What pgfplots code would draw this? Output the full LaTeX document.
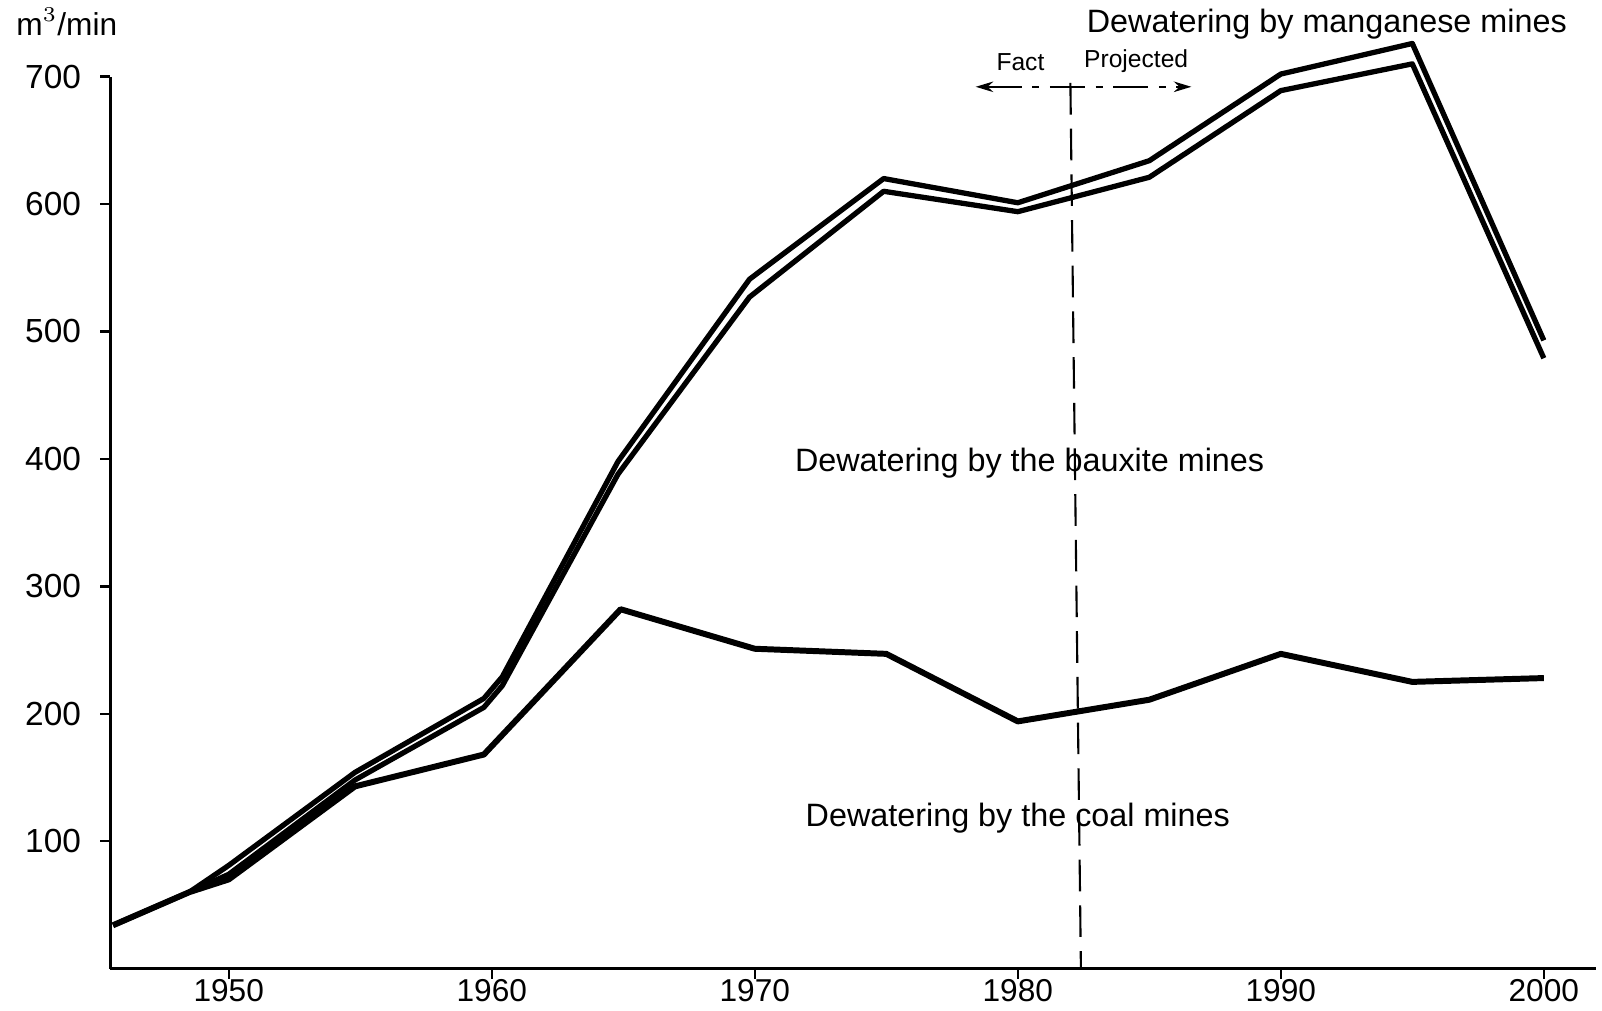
\documentclass[border=0pt]{standalone}
\usepackage{pgfplots}
\pgfplotsset{compat=1.18}
\usepackage{fontspec}
\setmainfont{Liberation Sans}
\usetikzlibrary{arrows.meta}
\begin{document}
\begin{tikzpicture}
\useasboundingbox (-1.104cm,-0.414cm) rectangle (14.916cm,9.686cm);
\begin{axis}[
  at={(0,0)}, anchor=south west,
  scale only axis,
  width=14.86cm, height=8.92cm,
  xmin=1945.5, xmax=2002,
  ymin=0, ymax=700,
  axis lines=left,
  axis line style={-, line width=0.8pt},
  xtick={1950,1960,1970,1980,1990,2000},
  ytick={100,200,300,400,500,600,700},
  tick align=outside,
  major tick length=0.1cm,
  tick style={line width=0.7pt, black},
  x tick label style={font=\fontsize{9}{10}\selectfont, inner sep=1pt, yshift=1pt},
  y tick label style={font=\fontsize{9.5}{11}\selectfont, xshift=-2pt},
  /pgf/number format/assume math mode=true,
  xticklabel style={/pgf/number format/1000 sep=},
  clip=false,
]
% coal mines
\addplot[black, line width=1.7pt, line join=round] coordinates {
 (1945.6,34) (1948.5,60) (1950,70) (1954.8,143) (1959.7,168) (1964.9,282)
 (1970,251) (1975,247) (1980,194) (1985,211) (1990,247) (1995,225) (2000,228)
};
% bauxite mines
\addplot[black, line width=1.5pt, line join=round] coordinates {
 (1945.6,34) (1948.5,60) (1950,74) (1954.8,148) (1959.7,205) (1960.4,222) (1964.8,388)
 (1969.8,527) (1974.9,610) (1980,594) (1985,621) (1990,689) (1995,710) (2000,479)
};
% manganese mines
\addplot[black, line width=1.5pt, line join=round] coordinates {
 (1948.5,60) (1950,81) (1954.8,154) (1959.7,212) (1960.4,229) (1964.8,398)
 (1969.8,541) (1974.9,620) (1980,601) (1985,634) (1990,702) (1995,726) (2000,493)
};
% fact / projected separator
\addplot[black, line width=0.6pt, dash pattern=on 9pt off 4pt] coordinates {(1982.0,695) (1982.4,0)};
\addplot[black, line width=0.6pt, dash pattern=on 10pt off 3pt on 2pt off 3pt, {Stealth[length=5pt,width=3pt]}-{Stealth[length=5pt,width=3pt]}] coordinates {(1978.4,692) (1986.6,692)};
\node[font=\fontsize{7}{8}\selectfont] at (axis cs:1980.1,711) {Fact};
\node[font=\fontsize{7}{8}\selectfont] at (axis cs:1984.5,712) {Projected};
\node[font=\fontsize{9.2}{11}\selectfont] at (axis cs:1991.75,741) {Dewatering by manganese mines};
\node[font=\fontsize{9.2}{11}\selectfont] at (axis cs:1980.45,397) {Dewatering by the bauxite mines};
\node[font=\fontsize{9.2}{11}\selectfont] at (axis cs:1980.0,118) {Dewatering by the coal mines};
\node[font=\fontsize{9}{11}\selectfont, anchor=west, inner sep=0pt] at (axis cs:1941.9,743) {m$^3$/min};
\end{axis}
\end{tikzpicture}
\end{document}
